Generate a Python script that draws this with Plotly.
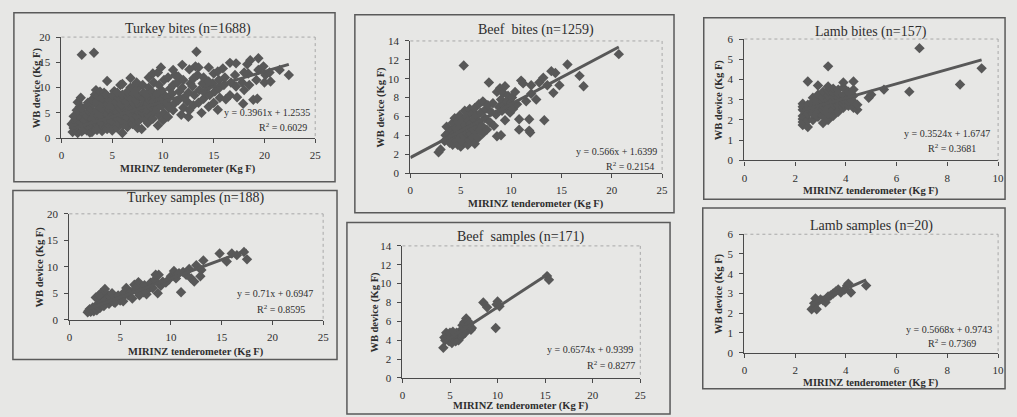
import plotly.graph_objects as go

W, H = 1017, 417

# ------------------------------------------------------------------ data
titles = ["Turkey bites (n=1688)", "Beef  bites (n=1259)", "Lamb bites (n=157)",
          "Turkey samples (n=188)", "Beef  samples (n=171)", "Lamb samples (n=20)"]
equations = ["y = 0.3961x + 1.2535", "y = 0.566x + 1.6399", "y = 0.3524x + 1.6747",
             "y = 0.71x + 0.6947", "y = 0.6574x + 0.9399", "y = 0.5668x + 0.9743"]
r2_values = ["0.6029", "0.2154", "0.3681", "0.8595", "0.8277", "0.7369"]
slopes = [0.5961, 0.566, 0.3524, 0.71, 0.6574, 0.5668]
intercepts = [1.2535, 1.6399, 1.6747, 0.6947, 0.9399, 0.9743]
line_x_start = [1.0, 0.0, 2.3, 1.8, 4.3, 2.65]
line_x_end = [22.4, 20.7, 9.35, 17.5, 15.4, 4.8]
x_max = [25, 25, 10, 25, 25, 10]
y_max = [20, 14, 6, 20, 14, 6]
x_step = [5, 5, 2, 5, 5, 2]
y_step = [5, 2, 1, 5, 2, 1]
x_title = "MIRINZ tenderometer (Kg F)"
y_title = "WB device (Kg F)"

turkey_bites = [
    (1.1, 1.2), (1.2, 2.0), (1.0, 2.8), (1.3, 3.5), (1.2, 4.3), (1.4, 1.6),
    (1.6, 1.0), (1.5, 2.4), (1.7, 3.2), (1.6, 4.6), (1.5, 5.5), (1.6, 7.1), (1.8, 6.2),
    (2.0, 1.3), (2.1, 2.2), (1.9, 3.1), (2.0, 4.0), (2.2, 5.0), (2.0, 6.0), (1.9, 8.0), (2.0, 16.5), (2.2, 1.7), (2.3, 3.6),
    (2.5, 1.5), (2.6, 2.4), (2.4, 3.3), (2.5, 4.3), (2.7, 5.3), (2.5, 6.4), (2.6, 7.0), (2.8, 1.1),
    (3.0, 1.2), (3.1, 2.0), (2.9, 2.9), (3.0, 3.8), (3.2, 4.8), (2.9, 5.8), (3.1, 6.8), (3.0, 7.6), (3.3, 8.6), (3.2, 16.9), (3.4, 9.5),
    (3.5, 1.6), (3.6, 2.6), (3.4, 3.5), (3.6, 4.5), (3.5, 5.5), (3.7, 6.3), (3.5, 7.3), (3.6, 8.3), (3.8, 9.2),
    (4.0, 1.4), (4.1, 2.3), (3.9, 3.2), (4.0, 4.2), (4.2, 5.2), (3.9, 6.0), (4.1, 7.0), (4.0, 8.0), (4.2, 9.0),
    (4.5, 1.8), (4.6, 2.8), (4.4, 3.7), (4.5, 4.7), (4.7, 5.7), (4.5, 6.6), (4.6, 7.6), (4.4, 8.6), (4.5, 11.3),
    (5.0, 1.5), (5.1, 2.5), (4.9, 3.4), (5.0, 4.4), (5.2, 5.4), (4.9, 6.4), (5.1, 7.4), (5.0, 8.4), (5.2, 9.3),
    (5.5, 2.0), (5.6, 3.0), (5.4, 4.0), (5.5, 5.0), (5.7, 6.0), (5.4, 7.0), (5.6, 8.0), (5.5, 9.0), (5.8, 10.5),
    (6.0, 1.0), (6.1, 2.6), (5.9, 3.6), (6.0, 4.6), (6.2, 5.6), (5.9, 6.6), (6.1, 7.6), (6.0, 8.6), (6.0, 10.7),
    (6.5, 2.2), (6.6, 3.2), (6.4, 4.2), (6.5, 5.2), (6.7, 6.2), (6.4, 7.2), (6.6, 8.2), (6.5, 9.2), (6.8, 10.0),
    (7.0, 2.8), (7.1, 3.8), (6.9, 4.8), (7.0, 5.8), (7.2, 6.8), (6.9, 7.8), (7.1, 8.8), (7.0, 10.0), (6.8, 11.9),
    (7.5, 2.0), (7.6, 3.4), (7.4, 4.4), (7.5, 5.4), (7.7, 6.4), (7.4, 7.4), (7.6, 8.4), (7.5, 9.8), (7.4, 11.0),
    (7.9, 1.8), (8.1, 4.0), (8.0, 5.0), (7.9, 6.0), (8.2, 7.0), (8.0, 8.0), (8.1, 9.0), (8.0, 10.5),
    (8.5, 3.0), (8.6, 4.6), (8.4, 5.6), (8.5, 6.6), (8.7, 7.6), (8.4, 8.6), (8.6, 10.0), (8.6, 12.0),
    (9.0, 3.8), (9.1, 5.2), (8.9, 6.2), (9.0, 7.2), (9.2, 8.2), (8.9, 9.2), (9.1, 11.0), (9.0, 12.8),
    (9.5, 2.5), (9.6, 4.5), (9.4, 5.8), (9.5, 6.8), (9.7, 7.8), (9.4, 8.8), (9.6, 10.5), (9.5, 13.0),
    (10.0, 3.5), (10.1, 5.0), (9.9, 6.4), (10.0, 7.4), (10.2, 8.4), (9.9, 9.4), (10.1, 11.5), (9.8, 14.0),
    (10.5, 4.2), (10.6, 6.0), (10.4, 7.0), (10.5, 8.0), (10.7, 9.8), (10.5, 12.0),
    (11.0, 5.5), (11.1, 6.8), (10.9, 8.8), (11.0, 10.5), (11.2, 12.5), (11.0, 13.5),
    (11.5, 7.5), (11.6, 9.2), (11.4, 11.0), (11.5, 12.2), (11.8, 4.6),
    (12.0, 6.0), (12.1, 8.0), (11.9, 10.0), (12.0, 11.5), (11.9, 14.5),
    (12.5, 4.2), (12.6, 5.5), (12.4, 7.2), (12.5, 9.0), (12.7, 10.8), (12.6, 13.6),
    (13.0, 6.5), (13.1, 8.5), (12.9, 10.2), (13.0, 11.8), (13.2, 14.2), (13.3, 17.1),
    (13.5, 7.0), (13.6, 9.5), (13.4, 12.5), (13.5, 14.0), (13.8, 5.0),
    (14.0, 7.8), (14.1, 9.0), (13.9, 10.8), (14.0, 12.0),
    (14.5, 6.2), (14.6, 8.5), (14.4, 10.0), (14.5, 11.2), (14.5, 14.0),
    (15.0, 7.0), (15.1, 9.2), (14.9, 10.8), (15.0, 12.8),
    (15.4, 5.6), (15.6, 8.0), (15.5, 9.8), (15.5, 11.5), (15.4, 13.2),
    (16.2, 7.7), (16.0, 10.5), (16.1, 12.0), (15.9, 13.8),
    (16.6, 8.5), (16.7, 11.0), (16.6, 14.9),
    (17.3, 8.1), (17.2, 10.2), (17.1, 12.5), (17.2, 14.8),
    (17.9, 6.8), (18.0, 9.5), (17.8, 11.0), (18.0, 13.0),
    (18.9, 7.6), (18.5, 10.5), (18.4, 12.8), (18.6, 15.4), (18.3, 14.6),
    (19.3, 7.8), (19.2, 11.5), (19.4, 13.5), (19.4, 15.8),
    (20.0, 11.0), (20.1, 12.5), (19.9, 14.2),
    (20.6, 11.2), (20.5, 13.0),
    (21.5, 13.5), (22.4, 12.5),
]

beef_bites = [
    (2.8, 2.2), (3.0, 2.5), (3.4, 3.4), (3.5, 4.0), (3.6, 4.9), (3.7, 3.6), (3.8, 4.3), (3.9, 3.2),
    (4.0, 3.8), (4.1, 4.6), (4.2, 5.3), (4.2, 3.0), (4.3, 4.1), (4.4, 5.8), (4.5, 3.4), (4.5, 4.8),
    (4.6, 4.0), (4.7, 5.4), (4.7, 3.0), (4.8, 4.4), (4.9, 6.1), (4.9, 3.6),
    (5.0, 4.9), (5.0, 2.8), (5.1, 4.0), (5.2, 5.6), (5.2, 3.3), (5.3, 4.5), (5.3, 11.4), (5.4, 6.6),
    (5.4, 3.8), (5.5, 5.1), (5.6, 4.2), (5.6, 6.0), (5.7, 3.0), (5.8, 4.7), (5.8, 5.5), (5.9, 3.5), (5.9, 6.8),
    (6.0, 4.1), (6.0, 5.2), (6.1, 6.3), (6.2, 3.7), (6.2, 4.7), (6.3, 5.7), (6.4, 3.1), (6.4, 6.9),
    (6.5, 4.4), (6.5, 5.0), (6.6, 6.1), (6.7, 3.7), (6.8, 5.4), (6.8, 7.3), (6.9, 4.6),
    (7.0, 6.4), (7.1, 5.0), (7.2, 7.6), (7.2, 4.2), (7.4, 5.8), (7.5, 6.8), (7.6, 4.6), (7.7, 7.2), (7.8, 9.6), (7.9, 5.4),
    (8.0, 6.5), (8.2, 7.4), (8.3, 5.0), (8.5, 6.2), (8.6, 8.6), (8.6, 3.9), (8.8, 7.0), (8.9, 9.0), (9.0, 4.0),
    (9.0, 7.8), (9.1, 6.6), (9.2, 8.5), (9.3, 7.2), (9.4, 9.2), (9.4, 5.6),
    (9.5, 6.9), (9.6, 7.6), (9.7, 8.2), (9.8, 7.0), (9.9, 6.4), (10.0, 7.5), (10.1, 8.0), (10.2, 6.8),
    (10.4, 8.6), (10.6, 7.3), (10.8, 5.7), (10.8, 4.6),
    (11.0, 9.8), (11.2, 9.5), (11.5, 7.6), (11.8, 5.7), (11.8, 4.5), (11.9, 4.3), (12.0, 9.3), (12.0, 8.4),
    (12.5, 7.8), (12.8, 9.6), (13.2, 10.1), (13.3, 5.6), (13.6, 9.3), (14.0, 10.8), (14.2, 8.5), (14.4, 10.6),
    (14.8, 9.3), (15.6, 11.5), (16.8, 10.3), (17.2, 9.2), (20.7, 12.6),
]

lamb_bites = [
    (2.3, 1.75), (2.3, 1.9), (2.3, 2.05), (2.3, 2.2), (2.3, 2.5), (2.3, 2.65), (2.3, 2.8),
    (2.5, 1.65), (2.5, 2.0), (2.5, 2.3), (2.5, 2.6), (2.5, 2.75), (2.5, 3.9),
    (2.7, 2.0), (2.7, 2.3), (2.7, 2.5), (2.7, 2.7), (2.7, 2.9), (2.7, 3.1),
    (2.9, 2.15), (2.9, 2.35), (2.9, 2.55), (2.9, 2.75), (2.9, 3.0), (2.9, 3.25), (2.9, 3.7),
    (3.1, 1.85), (3.1, 2.2), (3.1, 2.5), (3.1, 2.7), (3.1, 2.9), (3.1, 3.1), (3.1, 3.4),
    (3.3, 2.0), (3.3, 2.3), (3.3, 2.6), (3.3, 2.8), (3.3, 3.0), (3.3, 3.2), (3.3, 3.45), (3.3, 3.65), (3.3, 4.65),
    (3.5, 2.2), (3.5, 2.5), (3.5, 2.75), (3.5, 2.95), (3.5, 3.15), (3.5, 3.35), (3.5, 3.55),
    (3.7, 2.4), (3.7, 2.7), (3.7, 2.9), (3.7, 3.1), (3.7, 3.3), (3.7, 3.5),
    (3.9, 2.6), (3.9, 2.8), (3.9, 3.0), (3.9, 3.2), (3.9, 3.6), (3.9, 3.85),
    (4.1, 2.7), (4.1, 2.9), (4.1, 3.1), (4.1, 3.4),
    (4.3, 2.6), (4.3, 2.9), (4.3, 3.2), (4.3, 3.5), (4.3, 3.9),
    (4.45, 2.5), (4.45, 2.75),
    (4.9, 3.1), (5.0, 3.25), (5.5, 3.5), (6.5, 3.4), (6.9, 5.55), (8.5, 3.75), (9.35, 4.55),
]

turkey_samples = [
    (1.8, 1.4), (1.9, 1.7), (2.0, 2.0), (2.1, 1.5), (2.2, 1.9), (2.3, 2.3), (2.4, 1.6), (2.5, 2.1),
    (2.6, 2.6), (2.7, 1.8), (2.8, 2.4), (2.9, 3.0), (3.0, 2.2), (3.1, 2.8), (3.2, 3.4), (3.3, 4.2),
    (3.4, 2.6), (3.5, 3.2), (3.6, 3.8), (3.7, 4.8), (3.3, 5.2), (3.5, 5.8), (3.1, 5.0), (2.6, 4.2),
    (2.9, 4.6), (3.9, 3.0), (4.0, 3.6), (4.1, 4.3), (4.2, 5.0), (4.4, 3.3), (4.6, 3.9), (4.8, 4.6),
    (5.0, 3.6), (5.2, 4.2), (5.4, 5.2), (5.6, 6.0), (5.8, 4.6), (6.0, 5.2), (6.2, 4.0), (6.4, 6.6),
    (6.6, 5.4), (6.8, 7.1), (7.0, 6.0), (7.4, 6.5), (7.6, 4.8), (7.8, 5.8), (8.0, 7.0), (8.2, 6.0),
    (8.4, 7.5), (8.5, 8.5), (8.8, 8.5), (9.0, 6.4), (9.2, 7.2), (9.5, 7.0), (10.0, 8.2), (10.3, 9.2),
    (10.5, 7.8), (10.8, 8.8), (11.0, 5.2), (11.2, 9.0), (11.5, 8.5), (12.0, 7.8), (12.3, 7.2),
    (12.5, 10.3), (13.0, 9.4), (13.2, 11.2), (12.9, 8.2), (14.8, 12.5), (15.5, 11.0), (16.0, 12.5),
    (16.5, 12.2), (17.2, 12.8), (17.5, 11.4), (8.7, 5.0), (7.3, 5.2), (6.9, 4.6), (5.3, 3.5),
    (4.5, 3.2), (6.5, 5.9), (9.8, 7.6), (11.8, 9.6),
]

beef_samples = [
    (4.3, 3.2), (4.4, 4.3), (4.5, 4.0), (4.6, 4.8), (4.7, 4.4), (4.8, 4.1), (4.9, 3.9), (5.0, 4.6),
    (5.1, 4.3), (5.2, 3.7), (5.3, 4.9), (5.4, 4.1), (5.5, 4.5), (5.6, 3.9), (5.7, 4.8), (5.8, 4.3),
    (5.9, 4.0), (6.0, 4.6), (6.1, 5.0), (6.2, 4.4), (6.3, 5.6), (6.4, 5.2), (6.5, 5.9), (6.6, 4.8),
    (6.7, 6.3), (6.8, 5.4), (6.9, 6.0), (7.0, 5.7), (7.2, 5.1), (7.3, 5.3), (8.5, 8.0), (8.9, 7.5),
    (9.8, 5.3), (9.9, 7.8), (10.0, 8.1), (10.2, 7.6), (15.2, 10.8), (15.4, 10.4), (5.0, 4.8),
    (5.6, 4.7), (6.2, 4.7),
]

lamb_samples = [
    (2.65, 2.2), (2.75, 2.5), (2.8, 2.75), (2.85, 2.2), (2.9, 2.6), (3.0, 2.7), (3.1, 2.65),
    (3.2, 2.55), (3.3, 2.85), (3.4, 2.9), (3.5, 3.0), (3.6, 3.1), (3.7, 3.2), (3.8, 3.05),
    (3.95, 3.2), (4.05, 3.4), (4.1, 3.5), (4.2, 3.05), (4.8, 3.4), (3.25, 2.75),
]

series = [turkey_bites, beef_bites, lamb_bites, turkey_samples, beef_samples, lamb_samples]

# ------------------------------------------------------------------ layout (pixels)
# plot area: x0, x1, y_top, y_bottom ; frame: left, top, right, bottom
plot_px = [
    (59, 315, 32, 136),
    (411, 665, 36, 172),
    (748, 1004, 34, 159),
    (67, 323, 214, 323),
    (403, 643, 247, 383),
    (748, 1004, 235, 357),
]
frame_px = [
    (11, 7, 335, 181),
    (355, 9, 677, 213),
    (707, 12, 1011, 199),
    (10, 190, 337, 364),
    (347, 223, 673, 420),
    (706, 208, 1011, 394),
]
title_y = [24, 25, 27, 198, 238, 227]
xtitle_y = [168, 204, 190, 356, 412, 388]
ytitle_x = [34, 381, 722, 37, 375, 723]
eq_pos = [(312, 110, 283, 125), (662, 150, 633, 165), (998, 131, 957, 146),
          (315, 296, 280, 312), (638, 354, 613, 370), (1000, 333, 957, 347)]

BG = "#e7e7e5"
INK = "#2e2e2e"
MARK = "#585858"
FONT = "Liberation Serif"


def px(x):
    return x / W


def py(y):
    return 1 - y / H


fig = go.Figure()
shapes = []
annotations = []

for i in range(6):
    n = i + 1
    xa = "x" if n == 1 else f"x{n}"
    ya = "y" if n == 1 else f"y{n}"
    x0, x1, yt, yb = plot_px[i]
    pts = series[i]
    fig.add_trace(go.Scatter(
        x=[p[0] for p in pts], y=[p[1] for p in pts], mode="markers",
        marker=dict(symbol="diamond", size=8, color=MARK, line=dict(width=0)),
        xaxis=xa, yaxis=ya, showlegend=False, hoverinfo="skip"))
    lx = [line_x_start[i], line_x_end[i]]
    ly = [slopes[i] * v + intercepts[i] for v in lx]
    fig.add_trace(go.Scatter(
        x=lx, y=ly, mode="lines", line=dict(color=MARK, width=3),
        xaxis=xa, yaxis=ya, showlegend=False, hoverinfo="skip"))

    axis_common = dict(showgrid=False, zeroline=False, showline=True, linecolor="#4a4a4a",
                       linewidth=1.2, ticks="outside", ticklen=4, tickcolor="#4a4a4a",
                       tickfont=dict(family=FONT, size=11, color=INK), fixedrange=True)
    fig.layout[("xaxis" if n == 1 else f"xaxis{n}")] = dict(
        domain=[px(x0), px(x1)], range=[0, x_max[i]], dtick=x_step[i], tick0=0,
        anchor=ya, ticklabelstandoff=3, **axis_common)
    fig.layout[("yaxis" if n == 1 else f"yaxis{n}")] = dict(
        domain=[py(yb), py(yt)], range=[0, y_max[i]], dtick=y_step[i], tick0=0,
        anchor=xa, ticklabelstandoff=4, **axis_common)

    # dotted plot-area border (top & right)
    shapes.append(dict(type="line", xref="paper", yref="paper", x0=px(x0), x1=px(x1),
                       y0=py(yt), y1=py(yt), line=dict(color="#a8a8a8", width=1, dash="dot")))
    shapes.append(dict(type="line", xref="paper", yref="paper", x0=px(x1), x1=px(x1),
                       y0=py(yt), y1=py(yb), line=dict(color="#a8a8a8", width=1, dash="dot")))
    # chart frame
    fl, ft, fr, fb = frame_px[i]
    shapes.append(dict(type="rect", xref="paper", yref="paper", x0=px(fl), x1=px(fr),
                       y0=py(fb), y1=py(ft), line=dict(color="#5a5a5a", width=1.5)))

    annotations.append(dict(text=titles[i], xref="paper", yref="paper", x=px((x0 + x1) / 2),
                            y=py(title_y[i]), showarrow=False, xanchor="center", yanchor="middle",
                            font=dict(family=FONT, size=14, color=INK)))
    annotations.append(dict(text=f"<b>{x_title}</b>", xref="paper", yref="paper",
                            x=px((x0 + x1) / 2), y=py(xtitle_y[i]), showarrow=False,
                            xanchor="center", yanchor="middle",
                            font=dict(family=FONT, size=10.5, color=INK)))
    annotations.append(dict(text=f"<b>{y_title}</b>", xref="paper", yref="paper",
                            x=px(ytitle_x[i]), y=py((yt + yb) / 2), showarrow=False,
                            textangle=-90, xanchor="center", yanchor="middle",
                            font=dict(family=FONT, size=10.5, color=INK)))
    ex, ey, rx, ry = eq_pos[i]
    annotations.append(dict(text=equations[i], xref="paper", yref="paper", x=px(ex), y=py(ey),
                            showarrow=False, xanchor="right", yanchor="middle",
                            font=dict(family=FONT, size=10, color=INK)))
    annotations.append(dict(text=f"R<sup>2</sup> = {r2_values[i]}", xref="paper", yref="paper",
                            x=px(rx), y=py(ry), showarrow=False, xanchor="center",
                            yanchor="middle", font=dict(family=FONT, size=10, color=INK)))

fig.update_layout(width=W, height=H, margin=dict(l=0, r=0, t=0, b=0),
                  paper_bgcolor=BG, plot_bgcolor=BG, shapes=shapes, annotations=annotations,
                  showlegend=False)

fig.write_html("out.html", config={"displayModeBar": False},
               post_script="document.body.style.margin='0';document.body.style.overflow='hidden';")
